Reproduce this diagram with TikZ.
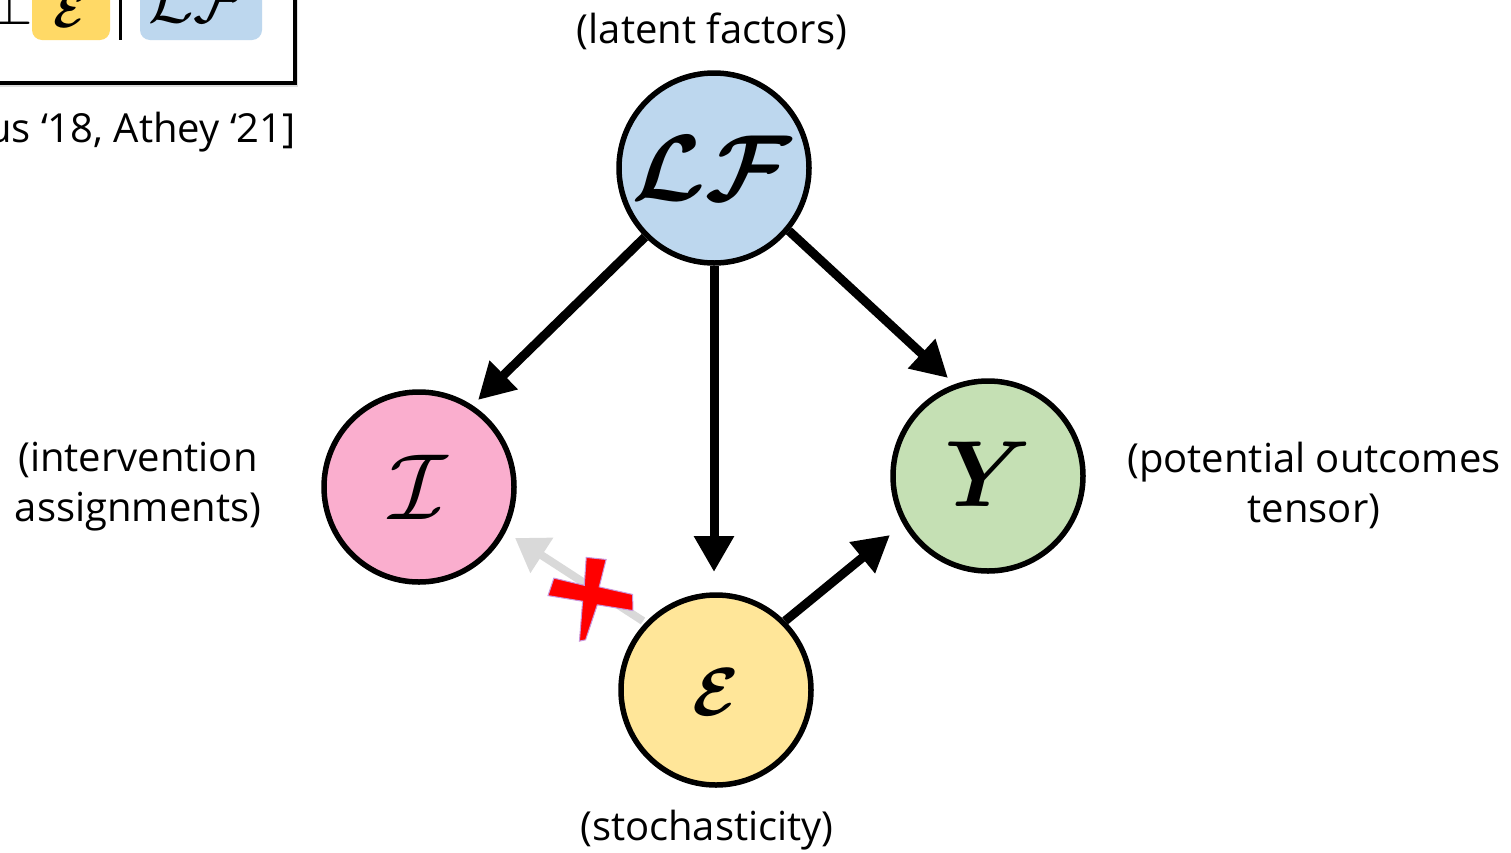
\documentclass[tikz,border=0pt]{standalone}
\usepackage{amsmath,bm,graphicx}
\usepackage{fontspec}
\setmainfont{Open Sans}
\usetikzlibrary{arrows.meta,shadows}
\newcommand{\bigsym}[2]{\scalebox{#1}{$#2$}}
\begin{document}
\begin{tikzpicture}[x=1pt,y=-1pt,
  var/.style={circle,draw=black,line width=5.5pt,minimum size=190pt,inner sep=0pt},
  lab/.style={font=\fontsize{40}{50}\selectfont,align=center,inner sep=0pt},
  arr/.style={line width=9pt,-{Triangle[length=36pt,width=38pt]}},
  greyarr/.style={line width=8pt,draw={rgb,255:red,217;green,217;blue,217},-{Triangle[length=32pt,width=40pt]}},
  sym/.style={inner sep=0pt}
]
\definecolor{lfblue}{RGB}{189,215,238}
\definecolor{ipink}{RGB}{250,174,206}
\definecolor{ygreen}{RGB}{197,224,180}
\definecolor{eyellow}{RGB}{255,230,153}
\definecolor{boxyellow}{RGB}{255,217,102}
\useasboundingbox (0,0) rectangle (1511,852);

% top-left cropped box
\node[draw=black,line width=4pt,fill=white,drop shadow={opacity=0.25,shadow xshift=3pt,shadow yshift=-4pt},minimum width=320pt,minimum height=120pt,inner sep=0pt] (box) at (135,23) {};
\node[fill=boxyellow,rounded corners=10pt,minimum width=78pt,minimum height=80pt,inner sep=0pt] (ebox) at (71,0) {};
\node[fill=lfblue,rounded corners=10pt,minimum width=122pt,minimum height=80pt,inner sep=0pt] (lbox) at (201,0) {};
\node[sym] (eboxt) at (70,11) {\bigsym{4.8}{\bm{\mathcal{E}}}};
\node[sym] (lboxt) at (198,0) {\bigsym{6.6}{\mathcal{L}\mathcal{F}}};
\draw[line width=3pt] (120,-5) -- (120,40);
\node[sym] (perp) at (10,4) {\bigsym{6}{\perp}};
\node[lab,anchor=east] (cite) at (296,132) {us ‘18, Athey ‘21]};

% variables
\node[var,fill=lfblue] (LF) at (714,168) {};
\node[sym] at ([xshift=-2pt]LF) {\bigsym{9.4}{\bm{\mathcal{L}\mathcal{F}}}};
\node[var,fill=ipink] (I) at (419,487) {};
\node[sym] at (I) {\bigsym{9.4}{\mathcal{I}}};
\node[var,fill=ygreen] (Y) at (988,476) {};
\node[sym] at ([yshift=2pt]Y) {\bigsym{9.4}{\bm{Y}}};
\node[var,fill=eyellow] (E) at (716,690) {};
\node[sym] at ([yshift=-2pt]E) {\bigsym{6.8}{\bm{\mathcal{E}}}};

% labels
\node[lab] (lLF) at (712,31) {(latent factors)};
\node[lab] (lI) at (138,487) {(intervention\\assignments)};
\node[lab] (lY) at (1314,485) {(potential outcomes\\tensor)};
\node[lab] (lE) at (707,830) {(stochasticity)};

% arrow end points
\coordinate (tI) at (478,400);
\coordinate (tE) at (714,572);
\coordinate (tY) at (948,378);
\coordinate (tY2) at (890,535);
\coordinate (gI) at (515,538);
\coordinate (gE) at (643,621);

% arrows
\draw[arr] (LF.-135) -- (tI);
\draw[arr] (LF.south) -- (tE);
\draw[arr] (LF.-40) -- (tY);
\draw[arr] (E.45) -- (tY2);
\draw[greyarr] (gE) -- (gI);

% red cross
\coordinate (X) at (590,598);
\begin{scope}[shift={(X)},rotate=-6]
\fill[red,draw={rgb,255:red,200;green,150;blue,220},line width=1pt]
  (-8,-40) -- (12,-40) -- (8,-12) -- (42,-8) -- (44,8) -- (8,6) -- (0,42) -- (-6,44) -- (-7,4) -- (-42,2) -- (-38,-16) -- (-7,-12) -- cycle;
\end{scope}
\end{tikzpicture}
\end{document}
